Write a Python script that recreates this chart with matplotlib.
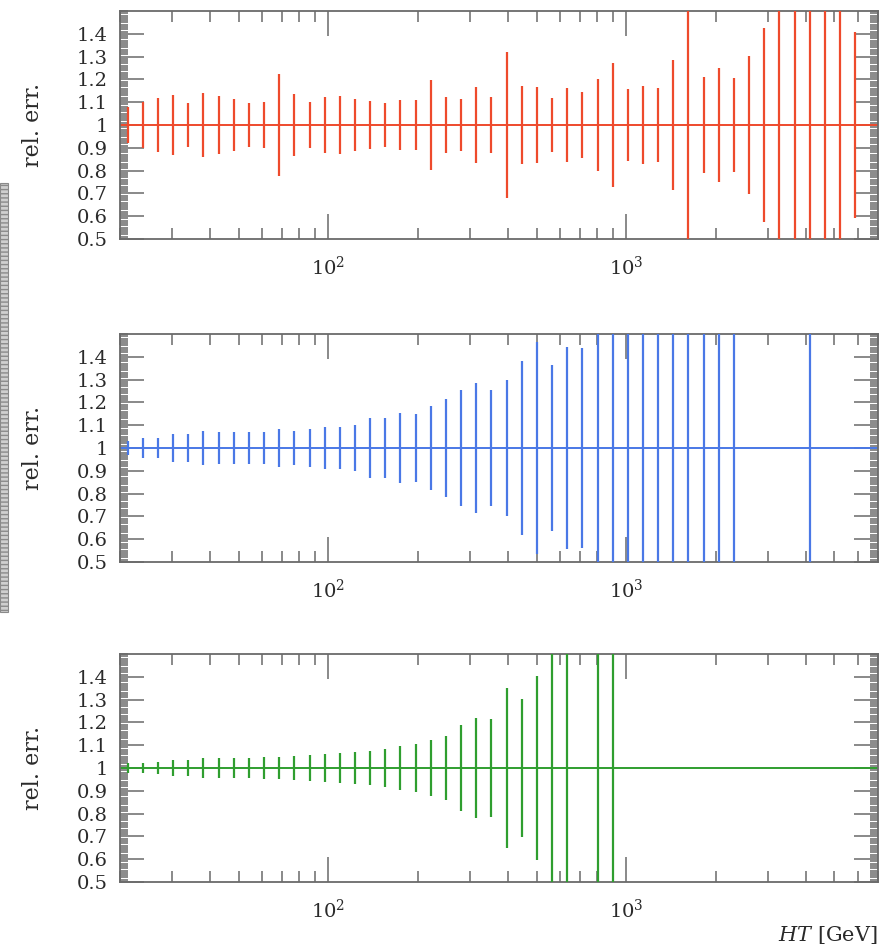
#!/usr/bin/env python
# relative uncertainty per HT bin for three samples

import numpy as np
from matplotlib import pyplot as plt
from matplotlib.patches import Rectangle
from matplotlib.ticker import MultipleLocator, FixedLocator, NullFormatter, LogLocator

nan = np.nan
OFF = 0.6  # error larger than the plotted range

# 50 log-spaced bins between 20 GeV and 7 TeV
ht_edges = np.geomspace(20, 7000, 51)

# half-widths of the relative error bars (central value 1)
err_red = [0.08, 0.10, 0.117, 0.13, 0.098, 0.14, 0.126, 0.113, 0.098, 0.10,
           0.225, 0.136, 0.10, 0.124, 0.127, 0.116, 0.107, 0.095, 0.11, 0.11,
           0.197, 0.124, 0.113, 0.168, 0.121, 0.32, 0.17, 0.168, 0.118, 0.164,
           0.146, 0.20, 0.273, 0.157, 0.172, 0.161, 0.286, OFF, 0.212, 0.252,
           0.207, 0.301, 0.424, OFF, OFF, OFF, OFF, OFF, 0.41, nan]
err_blue = [0.03, 0.045, 0.046, 0.06, 0.06, 0.075, 0.068, 0.068, 0.068, 0.072,
            0.082, 0.076, 0.082, 0.09, 0.093, 0.10, 0.13, 0.132, 0.152, 0.149,
            0.186, 0.215, 0.254, 0.283, 0.254, 0.30, 0.38, 0.465, 0.366, 0.442,
            0.438, OFF, OFF, OFF, OFF, OFF, OFF, OFF, OFF, OFF,
            OFF, nan, nan, nan, nan, OFF, nan, nan, nan, nan]
err_green = [0.02, 0.024, 0.027, 0.034, 0.035, 0.042, 0.045, 0.045, 0.045, 0.049,
             0.049, 0.053, 0.056, 0.06, 0.064, 0.072, 0.075, 0.082, 0.098, 0.104,
             0.122, 0.142, 0.19, 0.221, 0.215, 0.352, 0.301, 0.405, OFF, OFF,
             nan, OFF, OFF, nan, nan, nan, nan, nan, nan, nan,
             nan, nan, nan, nan, nan, nan, nan, nan, nan, nan]

colors = ['#ee4a2c', '#4a78e6', '#2f9e2f']
yticks = [0.5, 0.6, 0.7, 0.8, 0.9, 1.0, 1.1, 1.2, 1.3, 1.4]
ytick_labels = ['0.5', '0.6', '0.7', '0.8', '0.9', '1', '1.1', '1.2', '1.3', '1.4']

W, H = 881, 948
panel_tops = [11, 334, 654]
PANEL_H = 228
AX_L, AX_R = 120, 878


def style_axes(ax):
	ax.set_xscale('log')
	ax.set_xlim(20, 7000)
	ax.set_ylim(0.5, 1.5)
	ax.yaxis.set_major_locator(FixedLocator(yticks))
	ax.set_yticklabels(ytick_labels)
	ax.yaxis.set_minor_locator(MultipleLocator(0.01))
	ax.xaxis.set_major_locator(LogLocator(base=10, numticks=10))
	ax.xaxis.set_minor_locator(LogLocator(base=10, subs=np.arange(2, 10), numticks=20))
	ax.xaxis.set_minor_formatter(NullFormatter())
	ax.tick_params(which='both', direction='in', top=True, right=True,
		color='#6a6a6a', width=1.1, labelsize=14, labelcolor='#2a2a2a')
	ax.tick_params(axis='y', which='major', length=17, pad=9)
	ax.tick_params(axis='y', which='minor', length=6)
	ax.tick_params(axis='x', which='major', length=18, pad=12)
	ax.tick_params(axis='x', which='minor', length=8)
	for s in ax.spines.values():
		s.set_color('#6a6a6a')
		s.set_linewidth(1.3)
	ax.set_ylabel('rel. err.', fontsize=16, color='#2a2a2a')
	ax.yaxis.set_label_coords(-0.100, 0.5)


def main():
	plt.rc('font', family='DejaVu Serif')
	plt.rcParams['mathtext.fontset'] = 'dejavuserif'
	fig = plt.figure(figsize=(W / 100, H / 100), dpi=100)

	centers = np.sqrt(ht_edges[:-1] * ht_edges[1:])
	for top, err, c in zip(panel_tops, [err_red, err_blue, err_green], colors):
		ax = fig.add_axes([AX_L / W, 1 - (top + PANEL_H) / H, (AX_R - AX_L) / W, PANEL_H / H])
		e = np.asarray(err, dtype=float)
		ok = ~np.isnan(e)
		ax.axhline(1.0, color=c, lw=1.4, zorder=2)
		ax.vlines(centers[ok], 1 - e[ok], 1 + e[ok], color=c, lw=1.6, zorder=3)
		style_axes(ax)

	ax.set_xlabel('$HT$ [GeV]', fontsize=15, color='#2a2a2a', ha='right')
	ax.xaxis.set_label_coords(1.0, -0.185)

	# grey strip along the left edge
	fig.add_artist(Rectangle((0, 1 - 612 / H), 8 / W, 429 / H, transform=fig.transFigure,
		facecolor='#cfcfcf', edgecolor='#8a8a8a', hatch='----', lw=0.8))

	fig.savefig('out.png', dpi=100)


if __name__ == '__main__':
	main()
